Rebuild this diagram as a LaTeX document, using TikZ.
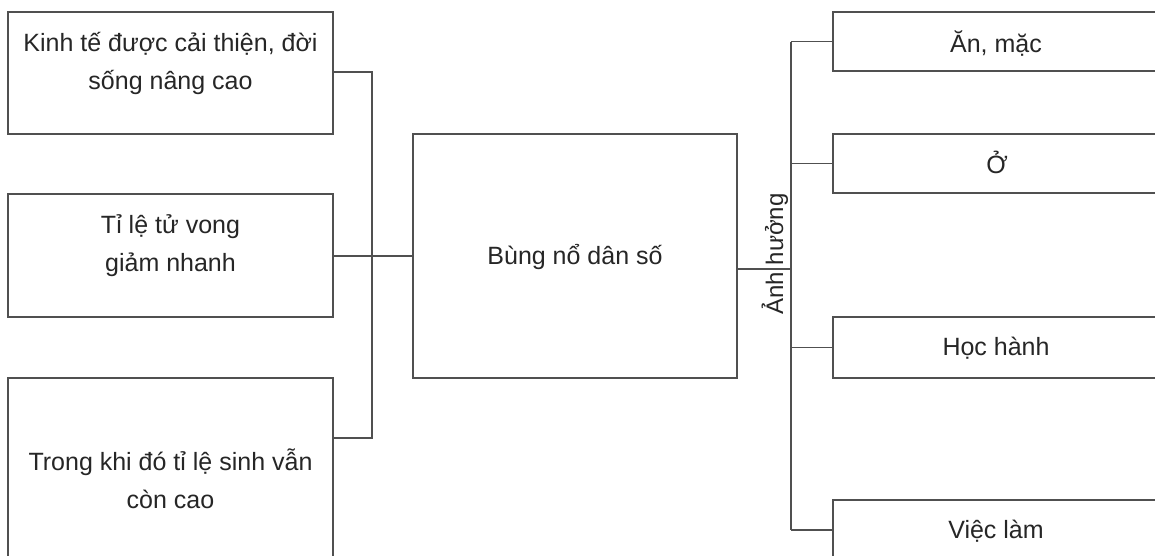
\documentclass[tikz,border=0pt]{standalone}
\usepackage{fontspec}
\setmainfont{Liberation Sans}
\begin{document}
\begin{tikzpicture}[x=1pt,y=-1pt,
  box/.style={draw=linegray,line width=1.3pt,rectangle,inner sep=0pt},
  txt/.style={text=textgray,font=\fontsize{25}{38}\selectfont,align=center,inner sep=0pt},
  conn/.style={draw=linegray,line width=1.3pt}]
\definecolor{linegray}{HTML}{505050}
\definecolor{textgray}{HTML}{262626}
\path[use as bounding box] (0,0) rectangle (1155,555);
\clip (0,0) rectangle (1155,555);
\fill[white] (0,0) rectangle (1155,555);
% left boxes
\node[box,minimum width=325pt,minimum height=122pt] (L1) at (170.5,73) {};
\node[box,minimum width=325pt,minimum height=123pt] (L2) at (170.5,255.5) {};
\node[box,minimum width=325pt,minimum height=187pt] (L3) at (170.5,471.5) {};
% centre box
\node[box,minimum width=324pt,minimum height=244pt] (C) at (575,256) {};
% right boxes
\node[box,minimum width=329pt,minimum height=59pt] (R1) at (997.5,41.5) {};
\node[box,minimum width=329pt,minimum height=59pt] (R2) at (997.5,163.5) {};
\node[box,minimum width=329pt,minimum height=61pt] (R3) at (997.5,347.5) {};
\node[box,minimum width=329pt,minimum height=60pt] (R4) at (997.5,530) {};
% texts
\node[txt] (t1) at (170.5,63.6) {Kinh tế được cải thiện, đời\\sống nâng cao};
\node[txt] (t2) at (170.5,245.6) {Tỉ lệ tử vong\\giảm nhanh};
\node[txt] (t3) at (170.5,479) {Trong khi đó tỉ lệ sinh vẫn\\còn cao};
\node[txt,anchor=base] (tc) at (575,264) {Bùng nổ dân số};
\node[txt,anchor=base] (tr1) at (996,52) {Ăn, mặc};
\node[txt,anchor=base] (tr2) at (997,173) {Ở};
\node[txt,anchor=base] (tr3) at (996,355) {Học hành};
\node[txt,anchor=base] (tr4) at (996,538) {Việc làm};
\node[txt,anchor=base,rotate=90,font=\fontsize{24}{30}\selectfont] (lab) at (783,254) {Ảnh hưởng};
% left connectors
\coordinate (lb) at (372,72);
\draw[conn] (L1.east |- 0,72) -- (lb) -- (lb |- 0,438) -- (L3.east |- 0,438);
\draw[conn] (L2.east |- C.west) -- (C.west);
% right connectors
\coordinate (rb) at (791,269);
\draw[conn] (C.east |- rb) -- (rb);
\draw[conn] (rb |- R1.west) -- (rb |- R4.west);
\foreach \r in {R1,R2,R3,R4} \draw[conn] (rb |- \r.west) -- (\r.west);
\end{tikzpicture}
\end{document}
